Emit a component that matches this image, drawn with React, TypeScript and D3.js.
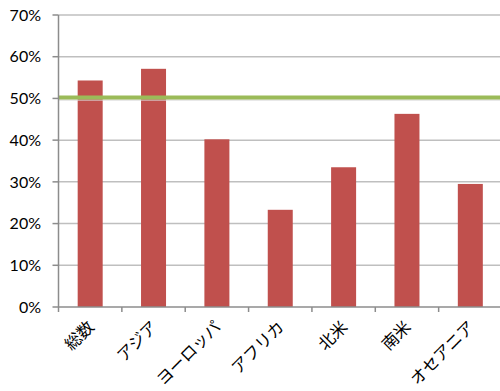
import React from "react";
import * as d3 from "d3";

const categories = ["総数", "アジア", "ヨーロッパ", "アフリカ", "北米", "南米", "オセアニア"];
const values = [54.3, 57.1, 40.2, 23.3, 33.5, 46.3, 29.5];
const yTicks = [0, 10, 20, 30, 40, 50, 60, 70];
const referenceValue = 50.2;

const W = 500;
const H = 391;
const left = 58.5;
const right = 502;
const top = 15;
const bottom = 307;

export default function App() {
  const x = d3.scaleBand<string>().domain(categories).range([left, right]).paddingInner(0).paddingOuter(0);
  const y = d3.scaleLinear().domain([0, 70]).range([bottom, top]);
  const bw = 25;
  const cat = x.bandwidth();
  const yFont = "Lato, 'Liberation Sans', sans-serif";
  const xFont = "'Noto Sans CJK JP', sans-serif";

  return (
    <svg width={W} height={H} style={{ position: "absolute", left: 0, top: 0, background: "#fff" }}>
      {yTicks.filter((t) => t > 0).map((t) => (
        <line key={"g" + t} x1={left} x2={W} y1={y(t)} y2={y(t)} stroke="#bfbfbf" strokeWidth={1.5} />
      ))}
      {categories.map((c, i) => {
        const cx = (x(c) as number) + cat / 2;
        return (
          <rect key={c} x={cx - bw / 2} y={y(values[i])} width={bw} height={bottom - y(values[i])} fill="#C0504D" />
        );
      })}
      <line x1={left} x2={W} y1={y(referenceValue) + 2.5} y2={y(referenceValue) + 2.5} stroke="#d9d9d9" strokeWidth={1} />
      <line x1={left} x2={W} y1={y(referenceValue)} y2={y(referenceValue)} stroke="#9BBB59" strokeWidth={4} />
      <line x1={left} x2={left} y1={top} y2={bottom} stroke="#8c8c8c" strokeWidth={1.5} />
      <line x1={left} x2={W} y1={bottom} y2={bottom} stroke="#8c8c8c" strokeWidth={1.5} />
      {yTicks.map((t) => (
        <g key={"t" + t}>
          <line x1={left - 6} x2={left} y1={y(t)} y2={y(t)} stroke="#8c8c8c" strokeWidth={1.5} />
          <text x={41} y={y(t)} dy="0.36em" textAnchor="end" fontFamily={yFont} fontSize={16} fill="#000">
            {t}%
          </text>
        </g>
      ))}
      {categories.map((c) => (
        <line key={"xt" + c} x1={x(c) as number} x2={x(c) as number} y1={bottom} y2={bottom + 5} stroke="#8c8c8c" strokeWidth={1.5} />
      ))}
      {categories.map((c) => {
        const cx = (x(c) as number) + cat / 2;
        return (
          <text
            key={"xl" + c}
            transform={`translate(${cx + 5},${bottom + 21}) rotate(-45)`}
            textAnchor="end"
            fontFamily={xFont}
            fontSize={16.5}
            fill="#000"
          >
            {c}
          </text>
        );
      })}
    </svg>
  );
}
